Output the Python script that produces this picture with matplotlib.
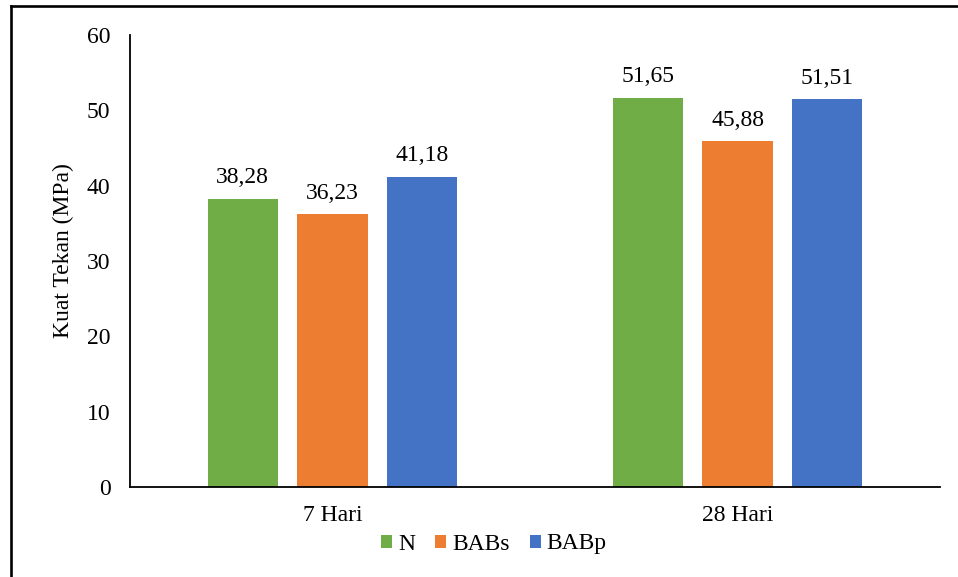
import matplotlib.pyplot as plt
from matplotlib.lines import Line2D
import numpy as np

categories = ['7 Hari', '28 Hari']
series_names = ['N', 'BABs', 'BABp']
values_n = [38.28, 51.65]
values_babs = [36.23, 45.88]
values_babp = [41.18, 51.51]
colors = ['#70AD47', '#ED7D31', '#4472C4']

plt.rcParams['font.family'] = ['Liberation Serif', 'DejaVu Serif']
fs = 17

fig = plt.figure(figsize=(9.58, 5.77), dpi=100)
ax = fig.add_axes([130 / 958, 90 / 577, 810 / 958, 452 / 577])

x = np.arange(len(categories))
width = 0.173
step = 0.222
all_values = [values_n, values_babs, values_babp]
for i, (name, vals, col) in enumerate(zip(series_names, all_values, colors)):
    bars = ax.bar(x + (i - 1) * step, vals, width, color=col, label=name)
    for b, v in zip(bars, vals):
        ax.annotate(f'{v:.2f}'.replace('.', ','),
                    (b.get_x() + b.get_width() / 2, v),
                    xytext=(0, 7.5), textcoords='offset points',
                    ha='center', va='bottom', fontsize=fs)

ax.set_xlim(-0.5, 1.5)
ax.set_ylim(0, 60)
ax.set_yticks(range(0, 61, 10))
ax.set_xticks(x)
ax.set_xticklabels(categories)
ax.tick_params(axis='both', length=0, labelsize=fs)
ax.tick_params(axis='y', pad=14)
ax.tick_params(axis='x', pad=13)
ax.set_ylabel('Kuat Tekan (MPa)', fontsize=fs)
ax.yaxis.set_label_coords(-0.069, 0.524)

for s in ['top', 'right']:
    ax.spines[s].set_visible(False)
ax.spines['left'].set_linewidth(1.3)
ax.spines['bottom'].set_linewidth(1.3)

ax.legend(loc='center', bbox_to_anchor=(494 / 958, 33 / 577),
          bbox_transform=fig.transFigure, ncol=3, frameon=False,
          fontsize=fs, handlelength=0.47, handleheight=0.47,
          handletextpad=0.25, columnspacing=0.85)

# figure border (left and top only, image is cropped)
fig.add_artist(Line2D([10.5 / 958, 10.5 / 958], [0, 1 - 5.5 / 577],
                      transform=fig.transFigure, color='black', lw=1.9))
fig.add_artist(Line2D([10.5 / 958, 1], [1 - 5.5 / 577, 1 - 5.5 / 577],
                      transform=fig.transFigure, color='black', lw=1.9))

fig.savefig('out.png', dpi=100)
